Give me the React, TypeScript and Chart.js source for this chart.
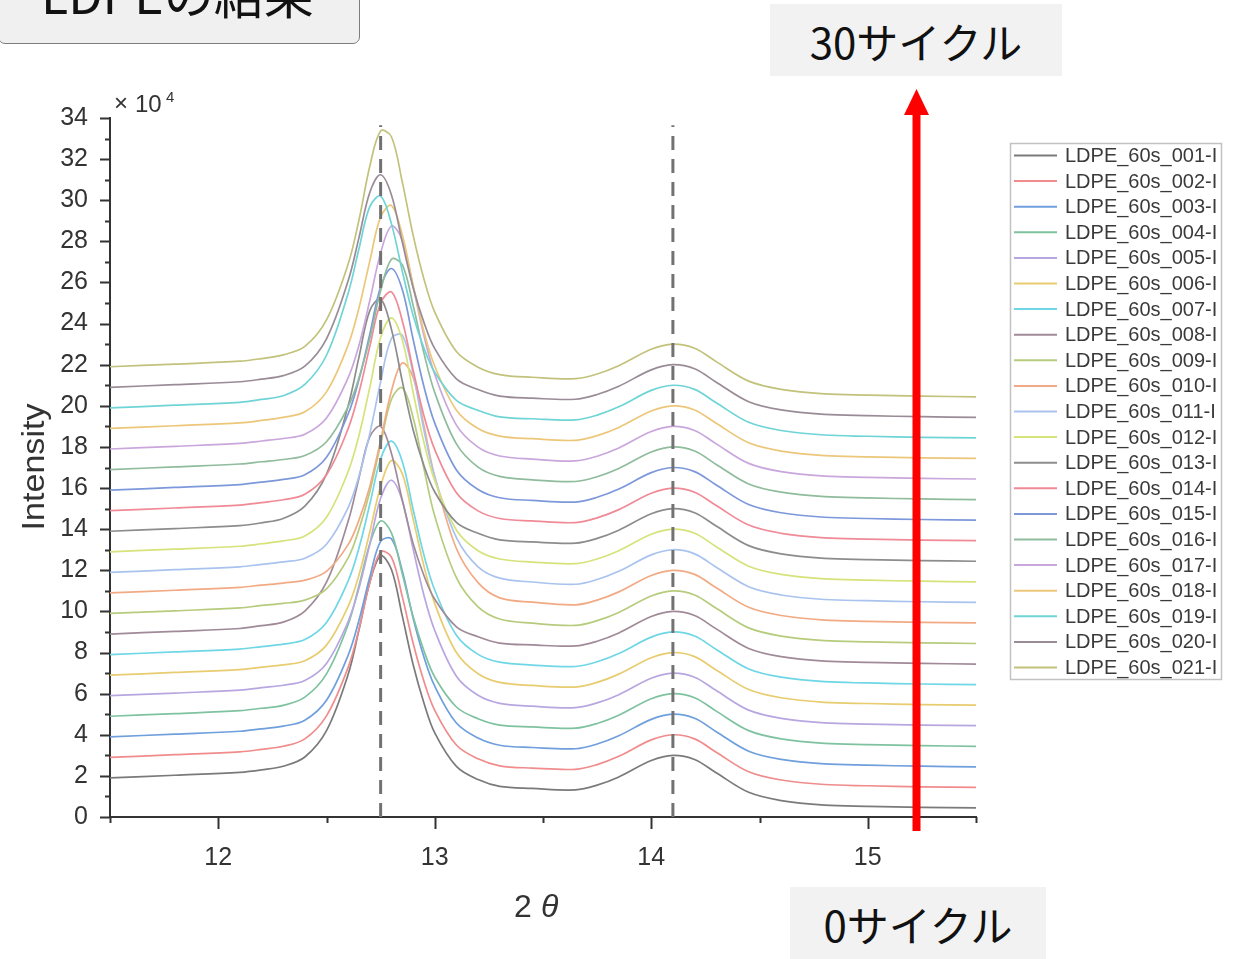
import React, { useEffect, useRef } from 'react';
import { Chart, registerables } from 'chart.js';

Chart.register(...registerables);

// 2θ sampling positions (deg)
const TWO_THETA = [11.5, 11.8, 12.1, 12.2, 12.3, 12.4, 12.5, 12.6, 12.65, 12.7, 12.75, 12.8, 12.85, 12.9, 12.95, 13.0, 13.1, 13.2, 13.3, 13.45, 13.65, 13.75, 13.85, 14.0, 14.1, 14.2, 14.3, 14.45, 14.6, 14.8, 15.0, 15.25, 15.5];

// Intensity (×10^4), stacked patterns
const S01 = [1.90, 2.03, 2.17, 2.29, 2.47, 2.92, 4.20, 6.94, 9.10, 11.41, 12.70, 12.04, 9.78, 7.42, 5.55, 4.09, 2.46, 1.82, 1.49, 1.39, 1.32, 1.55, 1.95, 2.75, 3.00, 2.80, 2.15, 1.20, 0.80, 0.58, 0.52, 0.47, 0.44];
const S02 = [2.90, 3.03, 3.17, 3.29, 3.44, 3.80, 4.92, 7.28, 9.14, 11.40, 12.89, 12.64, 10.72, 8.46, 6.60, 5.19, 3.50, 2.83, 2.49, 2.38, 2.32, 2.55, 2.95, 3.75, 4.00, 3.80, 3.15, 2.20, 1.80, 1.58, 1.52, 1.47, 1.44];
const S03 = [3.90, 4.03, 4.17, 4.29, 4.42, 4.71, 5.68, 7.87, 9.57, 11.67, 13.41, 13.53, 11.97, 9.68, 7.78, 6.36, 4.57, 3.84, 3.49, 3.38, 3.32, 3.55, 3.95, 4.75, 5.00, 4.80, 4.15, 3.20, 2.80, 2.58, 2.52, 2.47, 2.44];
const S04 = [4.90, 5.03, 5.17, 5.29, 5.43, 5.83, 6.96, 9.36, 11.25, 13.28, 14.40, 13.82, 11.83, 9.75, 8.09, 6.81, 5.35, 4.78, 4.47, 4.38, 4.32, 4.55, 4.95, 5.75, 6.00, 5.80, 5.15, 4.20, 3.80, 3.58, 3.52, 3.47, 3.44];
const S05 = [5.90, 6.03, 6.17, 6.29, 6.41, 6.64, 7.47, 9.51, 11.13, 13.28, 15.50, 16.38, 15.38, 13.04, 10.79, 9.07, 6.85, 5.92, 5.53, 5.39, 5.32, 5.55, 5.95, 6.75, 7.00, 6.80, 6.15, 5.20, 4.80, 4.58, 4.52, 4.47, 4.44];
const S06 = [6.90, 7.03, 7.17, 7.29, 7.40, 7.60, 8.36, 10.25, 11.77, 13.86, 16.09, 17.34, 16.70, 14.50, 12.21, 10.38, 8.00, 6.97, 6.55, 6.40, 6.32, 6.55, 6.95, 7.75, 8.00, 7.80, 7.15, 6.20, 5.80, 5.58, 5.52, 5.47, 5.44];
const S07 = [7.90, 8.03, 8.17, 8.29, 8.41, 8.63, 9.46, 11.48, 13.08, 15.21, 17.41, 18.28, 17.29, 14.97, 12.74, 11.04, 8.84, 7.91, 7.53, 7.39, 7.32, 7.55, 7.95, 8.75, 9.00, 8.80, 8.15, 7.20, 6.80, 6.58, 6.52, 6.47, 6.44];
const S08 = [8.90, 9.03, 9.17, 9.31, 9.48, 10.02, 11.42, 14.38, 16.49, 18.50, 19.00, 17.68, 15.42, 13.31, 11.75, 10.59, 9.25, 8.77, 8.46, 8.37, 8.32, 8.55, 8.95, 9.75, 10.00, 9.80, 9.15, 8.20, 7.80, 7.58, 7.52, 7.47, 7.44];
const S09 = [9.90, 10.03, 10.17, 10.29, 10.39, 10.55, 11.10, 12.60, 13.99, 15.82, 18.13, 20.32, 20.88, 19.43, 16.95, 14.64, 11.64, 10.22, 9.63, 9.43, 9.32, 9.55, 9.95, 10.75, 11.00, 10.80, 10.15, 9.20, 8.80, 8.58, 8.52, 8.47, 8.44];
const S10 = [10.90, 11.03, 11.17, 11.28, 11.38, 11.52, 11.95, 13.25, 14.44, 16.08, 18.32, 20.72, 22.08, 21.39, 19.03, 16.56, 13.06, 11.40, 10.66, 10.45, 10.32, 10.55, 10.95, 11.75, 12.00, 11.80, 11.15, 10.20, 9.80, 9.58, 9.52, 9.47, 9.44];
const S11 = [11.90, 12.03, 12.17, 12.29, 12.41, 12.59, 13.27, 15.05, 16.59, 18.65, 21.17, 23.28, 23.44, 21.57, 18.82, 16.54, 13.59, 12.17, 11.62, 11.43, 11.32, 11.55, 11.95, 12.75, 13.00, 12.80, 12.15, 11.20, 10.80, 10.58, 10.52, 10.47, 10.44];
const S12 = [12.90, 13.03, 13.17, 13.29, 13.43, 13.67, 14.58, 16.80, 18.56, 20.90, 23.32, 24.28, 23.20, 20.66, 18.22, 16.36, 13.96, 12.95, 12.55, 12.40, 12.32, 12.55, 12.95, 13.75, 14.00, 13.80, 13.15, 12.20, 11.80, 11.58, 11.52, 11.47, 11.44];
const S13 = [13.90, 14.03, 14.17, 14.31, 14.52, 15.12, 16.68, 20.00, 22.37, 24.63, 25.20, 23.72, 21.20, 18.84, 17.10, 15.81, 14.33, 13.80, 13.48, 13.38, 13.32, 13.55, 13.95, 14.75, 15.00, 14.80, 14.15, 13.20, 12.80, 12.58, 12.52, 12.47, 12.44];
const S14 = [14.90, 15.03, 15.17, 15.29, 15.43, 15.70, 16.65, 18.89, 20.65, 22.89, 25.00, 25.54, 24.14, 21.75, 19.52, 17.87, 15.77, 14.89, 14.52, 14.40, 14.32, 14.55, 14.95, 15.75, 16.00, 15.80, 15.15, 14.20, 13.80, 13.58, 13.52, 13.47, 13.44];
const S15 = [15.90, 16.03, 16.17, 16.29, 16.42, 16.65, 17.50, 19.60, 21.28, 23.48, 25.78, 26.68, 25.66, 23.24, 20.94, 19.16, 16.88, 15.93, 15.53, 15.40, 15.32, 15.55, 15.95, 16.75, 17.00, 16.80, 16.15, 15.20, 14.80, 14.58, 14.52, 14.47, 14.44];
const S16 = [16.90, 17.03, 17.17, 17.28, 17.39, 17.58, 18.25, 19.96, 21.36, 23.28, 25.59, 27.13, 26.87, 24.89, 22.57, 20.65, 18.15, 17.02, 16.57, 16.40, 16.32, 16.55, 16.95, 17.75, 18.00, 17.80, 17.15, 16.20, 15.80, 15.58, 15.52, 15.47, 15.44];
const S17 = [17.90, 18.03, 18.17, 18.29, 18.41, 18.62, 19.41, 21.37, 22.95, 25.12, 27.44, 28.74, 28.07, 25.80, 23.42, 21.52, 19.06, 17.99, 17.56, 17.41, 17.32, 17.55, 17.95, 18.75, 19.00, 18.80, 18.15, 17.20, 16.80, 16.58, 16.52, 16.47, 16.44];
const S18 = [18.90, 19.03, 19.17, 19.29, 19.44, 19.71, 20.68, 22.96, 24.76, 27.04, 29.19, 29.74, 28.32, 25.88, 23.61, 21.93, 19.79, 18.90, 18.53, 18.40, 18.32, 18.55, 18.95, 19.75, 20.00, 19.80, 19.15, 18.20, 17.80, 17.58, 17.52, 17.47, 17.44];
const S19 = [19.90, 20.03, 20.17, 20.31, 20.49, 21.04, 22.46, 25.48, 27.64, 29.69, 30.20, 28.85, 26.55, 24.40, 22.81, 21.63, 20.26, 19.78, 19.46, 19.37, 19.32, 19.55, 19.95, 20.75, 21.00, 20.80, 20.15, 19.20, 18.80, 18.58, 18.52, 18.47, 18.44];
const S20 = [20.90, 21.03, 21.17, 21.30, 21.47, 21.93, 23.26, 26.08, 28.18, 30.38, 31.24, 30.26, 27.96, 25.76, 24.06, 22.78, 21.31, 20.79, 20.47, 20.37, 20.32, 20.55, 20.95, 21.75, 22.00, 21.80, 21.15, 20.20, 19.80, 19.58, 19.52, 19.47, 19.44];
const S21 = [21.90, 22.03, 22.17, 22.30, 22.48, 22.89, 24.18, 26.90, 29.04, 31.65, 33.37, 33.09, 30.89, 28.30, 26.17, 24.56, 22.64, 21.88, 21.52, 21.39, 21.32, 21.55, 21.95, 22.75, 23.00, 22.80, 22.15, 21.20, 20.80, 20.58, 20.52, 20.47, 20.44];

const SERIES = [S01, S02, S03, S04, S05, S06, S07, S08, S09, S10, S11, S12, S13, S14, S15, S16, S17, S18, S19, S20, S21];

const SERIES_NAMES = [
  'LDPE_60s_001-I', 'LDPE_60s_002-I', 'LDPE_60s_003-I', 'LDPE_60s_004-I', 'LDPE_60s_005-I',
  'LDPE_60s_006-I', 'LDPE_60s_007-I', 'LDPE_60s_008-I', 'LDPE_60s_009-I', 'LDPE_60s_010-I',
  'LDPE_60s_011-I', 'LDPE_60s_012-I', 'LDPE_60s_013-I', 'LDPE_60s_014-I', 'LDPE_60s_015-I',
  'LDPE_60s_016-I', 'LDPE_60s_017-I', 'LDPE_60s_018-I', 'LDPE_60s_019-I', 'LDPE_60s_020-I',
  'LDPE_60s_021-I',
];

const SERIES_COLORS = [
  '#7a7a7a', '#f08c8c', '#6f9fdc', '#7fc2a0', '#b8a6e0', '#e8cc70', '#6fd6e6',
  '#a08a98', '#b6cc7c', '#f2aa84', '#a9c3ee', '#d6e27a', '#8c8c8c', '#f08a96',
  '#7d98da', '#8fbc9c', '#c9a6dc', '#ecc77a', '#6fd4d6', '#9a8c96', '#c2c27c',
];

// reference peak positions (dashed guides)
const GUIDE_POSITIONS = [12.75, 14.1];
const GUIDE_TOP = 33.65;

// axes
const X_MIN = 11.5;
const X_MAX = 15.5;
const Y_MIN = 0;
const Y_MAX = 34;
const X_TICKS = [12, 13, 14, 15];
const X_MINOR_TICKS = [11.5, 12.5, 13.5, 14.5, 15.5];
const Y_TICKS = [0, 2, 4, 6, 8, 10, 12, 14, 16, 18, 20, 22, 24, 26, 28, 30, 32, 34];
const Y_MINOR_TICKS = [1, 3, 5, 7, 9, 11, 13, 15, 17, 19, 21, 23, 25, 27, 29, 31, 33];

const FONT = "'Liberation Sans', Arial, sans-serif";
const JP_FONT = "'Noto Sans CJK JP', 'Noto Sans', sans-serif";

const overlayPlugin = {
  id: 'overlay',
  afterDraw(chart: any) {
    const ctx = chart.ctx as CanvasRenderingContext2D;
    const xs = chart.scales.x;
    const ys = chart.scales.y;
    const area = chart.chartArea;
    ctx.save();
    // ticks
    ctx.strokeStyle = '#333';
    ctx.lineWidth = 2;
    const yTick = (v: number, len: number) => {
      const py = Math.round(ys.getPixelForValue(v)) + 0.5;
      ctx.beginPath();
      ctx.moveTo(area.left, py);
      ctx.lineTo(area.left - len, py);
      ctx.stroke();
    };
    const xTick = (v: number, len: number) => {
      const px = Math.round(xs.getPixelForValue(v)) + 0.5;
      ctx.beginPath();
      ctx.moveTo(px, area.bottom);
      ctx.lineTo(px, area.bottom + len);
      ctx.stroke();
    };
    Y_TICKS.forEach((v) => yTick(v, 10));
    Y_MINOR_TICKS.forEach((v) => yTick(v, 5));
    X_TICKS.forEach((v) => xTick(v, 12));
    X_MINOR_TICKS.forEach((v) => xTick(v, 6));

    // ×10^4
    ctx.fillStyle = '#333';
    ctx.textBaseline = 'alphabetic';
    ctx.textAlign = 'left';
    ctx.font = `24px ${FONT}`;
    ctx.fillText('×', 114, 111);
    ctx.fillText('10', 135, 112);
    ctx.font = `15px ${FONT}`;
    ctx.fillText('4', 166, 102);

    // y title
    ctx.save();
    ctx.translate(35, 467);
    ctx.rotate(-Math.PI / 2);
    ctx.scale(1.1, 1);
    ctx.font = `31px ${FONT}`;
    ctx.textAlign = 'center';
    ctx.textBaseline = 'middle';
    ctx.fillStyle = '#333';
    ctx.fillText('Intensity', 0, 0);
    ctx.restore();

    // x title
    ctx.font = `32px ${FONT}`;
    ctx.textAlign = 'left';
    ctx.textBaseline = 'alphabetic';
    ctx.fillText('2', 514, 917);
    ctx.font = `italic 32px ${FONT}`;
    ctx.fillText('θ', 541, 917);

    // legend
    const lx = 1010;
    const ly = 143;
    const lw = 211;
    const lh = 536;
    ctx.strokeStyle = '#c2c2c2';
    ctx.lineWidth = 1.5;
    ctx.strokeRect(lx + 0.5, ly + 0.5, lw, lh);
    ctx.save();
    ctx.beginPath();
    ctx.rect(lx, ly, lw, lh);
    ctx.clip();
    const items = chart.data.datasets.filter((d: any) => d.isSeries);
    items.forEach((d: any, i: number) => {
      const y = ly + 12.5 + i * 25.6;
      ctx.strokeStyle = d.borderColor;
      ctx.lineWidth = 2;
      ctx.beginPath();
      ctx.moveTo(lx + 4, y);
      ctx.lineTo(lx + 47, y);
      ctx.stroke();
      ctx.fillStyle = '#3a3a3a';
      ctx.font = `20px ${FONT}`;
      ctx.textAlign = 'left';
      ctx.textBaseline = 'middle';
      ctx.fillText(d.label, lx + 55, y + 1);
    });
    ctx.restore();

    // red arrow (0 → 30 cycles)
    ctx.fillStyle = '#ff0000';
    ctx.fillRect(912.5, 112, 8, 719);
    ctx.beginPath();
    ctx.moveTo(916.5, 89);
    ctx.lineTo(904, 115);
    ctx.lineTo(929, 115);
    ctx.closePath();
    ctx.fill();
    ctx.restore();
  },
};

export default function App() {
  const canvasRef = useRef<HTMLCanvasElement | null>(null);

  useEffect(() => {
    if (!canvasRef.current) return;
    const seriesSets = SERIES.map((ys, k) => ({
      label: SERIES_NAMES[k],
      isSeries: true,
      data: ys.map((y, i) => ({ x: TWO_THETA[i], y })),
      borderColor: SERIES_COLORS[k],
      backgroundColor: SERIES_COLORS[k],
      borderWidth: 1.7,
      pointRadius: 0,
      fill: false,
      tension: 0.35,
      order: SERIES.length - k,
    }));
    const guideSets = GUIDE_POSITIONS.map((g) => ({
      label: `guide ${g}`,
      isSeries: false,
      data: [
        { x: g, y: Y_MIN },
        { x: g, y: GUIDE_TOP },
      ],
      borderColor: '#727272',
      borderWidth: 3,
      borderDash: [14, 9],
      pointRadius: 0,
      fill: false,
      tension: 0,
      order: -1,
    }));

    const chart = new Chart(canvasRef.current, {
      type: 'line',
      data: { datasets: [...guideSets, ...seriesSets] as any },
      options: {
        animation: false,
        responsive: false,
        layout: { padding: { left: 0, top: 118, right: 266, bottom: 82 } },
        plugins: { legend: { display: false }, tooltip: { enabled: false } },
        scales: {
          x: {
            type: 'linear',
            min: X_MIN,
            max: X_MAX,
            afterFit: (s: any) => {
              s.height = 60;
            },
            afterBuildTicks: (s: any) => {
              s.ticks = X_TICKS.map((v) => ({ value: v }));
            },
            grid: { display: false, drawTicks: false },
            border: { display: true, color: '#333', width: 2 },
            ticks: {
              color: '#333',
              font: { family: FONT, size: 25 },
              padding: 26,
              maxRotation: 0,
              autoSkip: false,
            },
          },
          y: {
            type: 'linear',
            min: Y_MIN,
            max: Y_MAX,
            afterFit: (s: any) => {
              s.width = 110;
            },
            afterBuildTicks: (s: any) => {
              s.ticks = Y_TICKS.map((v) => ({ value: v }));
            },
            grid: { display: false, drawTicks: false },
            border: { display: true, color: '#333', width: 2 },
            ticks: {
              color: '#333',
              font: { family: FONT, size: 25 },
              padding: 22,
              autoSkip: false,
            },
          },
        },
      } as any,
      plugins: [overlayPlugin],
    });
    return () => chart.destroy();
  }, []);

  return (
    <div style={{ position: 'absolute', left: 0, top: 0, width: 1242, height: 959, overflow: 'hidden', background: '#fff' }}>
      <canvas ref={canvasRef} width={1242} height={959} style={{ position: 'absolute', left: 0, top: 0, display: 'block' }} />
      <div
        style={{
          position: 'absolute',
          left: -2,
          top: -60,
          width: 362,
          height: 104,
          boxSizing: 'border-box',
          border: '1.5px solid #7d7d7d',
          borderRadius: 7,
          background: '#f0f0f0',
        }}
      >
        <span
          style={{
            position: 'absolute',
            left: 42,
            top: 26,
            fontFamily: JP_FONT,
            fontSize: 50,
            lineHeight: '50px',
            color: '#111',
            whiteSpace: 'nowrap',
          }}
        >
          LDPEの結果
        </span>
      </div>
      <div
        style={{
          position: 'absolute',
          left: 770,
          top: 4,
          width: 292,
          height: 72,
          background: '#f2f2f2',
          display: 'flex',
          alignItems: 'center',
          justifyContent: 'center',
          fontFamily: JP_FONT,
          fontSize: 42,
          color: '#111',
          whiteSpace: 'nowrap',
        }}
      >
        30サイクル
      </div>
      <div
        style={{
          position: 'absolute',
          left: 790,
          top: 887,
          width: 256,
          height: 72,
          background: '#f2f2f2',
          display: 'flex',
          alignItems: 'center',
          justifyContent: 'center',
          fontFamily: JP_FONT,
          fontSize: 42,
          color: '#111',
          whiteSpace: 'nowrap',
        }}
      >
        0サイクル
      </div>
    </div>
  );
}
